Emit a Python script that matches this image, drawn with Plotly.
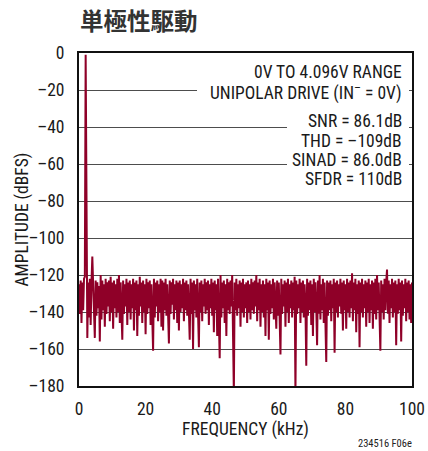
import numpy as np
import plotly.graph_objects as go

# FFT of a 2kHz tone, 0.25kHz bins from 0 to 100kHz (dBFS)
BIN_KHZ = 0.25
amplitude_dbfs = [
    -125, -141, -123, -146, -124, -139, -122, -121, -1, -123, -154, -124, -143, -122, -147, -124, -110, -125, -141, -154,
    -123, -142, -124, -138, -126, -156, -120, -144, -123, -139, -125, -148, -122, -141, -124, -137, -123, -145, -121, -140,
    -124, -149, -123, -138, -125, -143, -122, -140, -120, -146, -124, -139, -155, -123, -141, -125, -137, -122, -147, -124,
    -140, -123, -144, -125, -138, -122, -150, -124, -139, -123, -153, -125, -142, -121, -137, -124, -146, -123, -140, -125,
    -152, -122, -141, -124, -138, -123, -147, -125, -139, -161, -122, -143, -124, -137, -123, -145, -125, -140, -122, -148,
    -123, -150, -124, -139, -122, -142, -125, -138, -157, -123, -141, -124, -136, -122, -144, -125, -139, -123, -146, -124,
    -150, -123, -140, -125, -138, -122, -145, -124, -139, -123, -142, -125, -137, -155, -122, -141, -124, -160, -123, -139,
    -125, -143, -122, -138, -159, -124, -140, -123, -145, -125, -137, -122, -141, -124, -139, -123, -147, -125, -138, -122,
    -142, -124, -151, -123, -139, -125, -153, -122, -140, -165, -120, -143, -124, -138, -123, -146, -125, -153, -122, -139,
    -124, -141, -123, -137, -120, -144, -184, -124, -139, -122, -142, -125, -138, -123, -148, -124, -140, -122, -143, -125,
    -138, -124, -146, -123, -140, -125, -144, -122, -139, -124, -141, -123, -137, -120, -145, -124, -139, -122, -148, -125,
    -140, -123, -143, -125, -153, -122, -139, -124, -155, -123, -141, -125, -138, -122, -144, -124, -140, -149, -123, -142,
    -124, -139, -163, -122, -141, -125, -137, -123, -148, -124, -140, -122, -146, -125, -138, -123, -143, -124, -139, -121,
    -184, -123, -141, -125, -138, -122, -146, -124, -140, -123, -143, -125, -137, -169, -122, -142, -124, -139, -123, -147,
    -125, -153, -122, -140, -124, -138, -158, -123, -141, -120, -144, -125, -139, -122, -146, -124, -140, -167, -123, -142,
    -124, -139, -123, -145, -125, -138, -122, -162, -124, -140, -123, -143, -125, -137, -122, -141, -124, -150, -123, -139,
    -125, -149, -122, -140, -124, -143, -123, -138, -119, -145, -124, -139, -122, -151, -125, -141, -123, -159, -124, -140,
    -122, -143, -125, -138, -123, -148, -124, -140, -122, -146, -125, -139, -123, -149, -124, -141, -122, -144, -120, -139,
    -124, -142, -161, -123, -140, -125, -144, -122, -139, -124, -117, -141, -123, -146, -125, -138, -122, -143, -124, -140,
    -123, -158, -125, -141, -122, -139, -124, -156, -123, -142, -125, -138, -122, -145, -124, -140, -123, -144, -125, -146,
    -124,
]
frequency_khz = np.arange(len(amplitude_dbfs)) * BIN_KHZ

y_ticks = [0, -20, -40, -60, -80, -100, -120, -140, -160, -180]
y_tick_text = ["0" if v == 0 else "\u2013" + str(-v) for v in y_ticks]
x_ticks = [0, 20, 40, 60, 80, 100]

info_top = ["0V TO 4.096V RANGE", "UNIPOLAR DRIVE (IN<sup>\u2013</sup> = 0V)"]
info_metrics = ["SNR = 86.1dB", "THD = \u2013109dB", "SINAD = 86.0dB", "SFDR = 110dB"]

W, H = 428, 451
L, R, T, B = 79, 16, 53, 65
PW, PH = W - L - R, H - T - B
FONT = "Liberation Sans Narrow, Roboto Condensed, Arial Narrow, sans-serif"
FS = 17.5
INK = "#1a1a1a"
TRACE = "#8f0028"


def px_x(x):
    return (x - L) / PW


def px_y(y):
    return (H - B - y) / PH


fig = go.Figure()
fig.add_trace(go.Scatter(
    x=frequency_khz, y=amplitude_dbfs, mode="lines",
    line=dict(color=TRACE, width=2), hoverinfo="skip", showlegend=False,
))

# white panels behind the annotation text, hiding the gridlines there
fig.add_shape(type="rect", xref="paper", yref="paper", layer="above",
              x0=px_x(197), x1=px_x(409), y0=px_y(102), y1=px_y(62),
              fillcolor="white", line_width=0)
fig.add_shape(type="rect", xref="paper", yref="paper", layer="above",
              x0=px_x(287), x1=px_x(409), y0=px_y(189), y1=px_y(102),
              fillcolor="white", line_width=0)

ann = []
for txt, yc in zip(info_top, [72.5, 92]):
    ann.append(dict(text=txt, x=px_x(404), y=px_y(yc), xref="paper", yref="paper",
                    xanchor="right", yanchor="middle", showarrow=False,
                    font=dict(family=FONT, size=FS, color=INK)))
for txt, yc in zip(info_metrics, [121, 140.5, 159.5, 179]):
    ann.append(dict(text=txt, x=px_x(404), y=px_y(yc), xref="paper", yref="paper",
                    xanchor="right", yanchor="middle", showarrow=False,
                    font=dict(family=FONT, size=FS, color=INK)))
ann.append(dict(text="AMPLITUDE (dBFS)", x=px_x(22), y=0.5, xref="paper", yref="paper",
                xanchor="center", yanchor="middle", textangle=-90, showarrow=False,
                font=dict(family=FONT, size=FS, color=INK)))
ann.append(dict(text="<b>単極性駆動</b>", x=px_x(78), y=px_y(20), xref="paper", yref="paper",
                xanchor="left", yanchor="middle", showarrow=False,
                font=dict(family="Noto Sans CJK JP", size=23.5, color="#333333")))
ann.append(dict(text="234516 F06e", x=px_x(414), y=px_y(443.5), xref="paper", yref="paper",
                xanchor="right", yanchor="middle", showarrow=False,
                font=dict(family=FONT, size=10.5, color="#222222")))

fig.update_layout(
    width=W, height=H,
    margin=dict(l=L, r=R, t=T, b=B, pad=0, autoexpand=False),
    paper_bgcolor="white", plot_bgcolor="white",
    annotations=ann,
    font=dict(family=FONT, size=FS, color=INK),
)
fig.update_xaxes(
    range=[0, 100], tickvals=x_ticks, showgrid=False, zeroline=False,
    showline=True, mirror=True, linecolor="#111111", linewidth=2,
    ticks="", ticklabelstandoff=6, automargin=False,
    tickfont=dict(family=FONT, size=FS, color=INK),
    title=dict(text="FREQUENCY (kHz)", font=dict(family=FONT, size=FS, color=INK), standoff=5),
)
fig.update_yaxes(
    range=[-180, 0], tickvals=y_ticks, ticktext=y_tick_text,
    showgrid=True, gridcolor="#4d4d4d", gridwidth=1, zeroline=False,
    showline=True, mirror=True, linecolor="#111111", linewidth=2,
    ticks="", ticklabelstandoff=9, automargin=False,
    tickfont=dict(family=FONT, size=FS, color=INK),
)

fig.write_html("out.html")
